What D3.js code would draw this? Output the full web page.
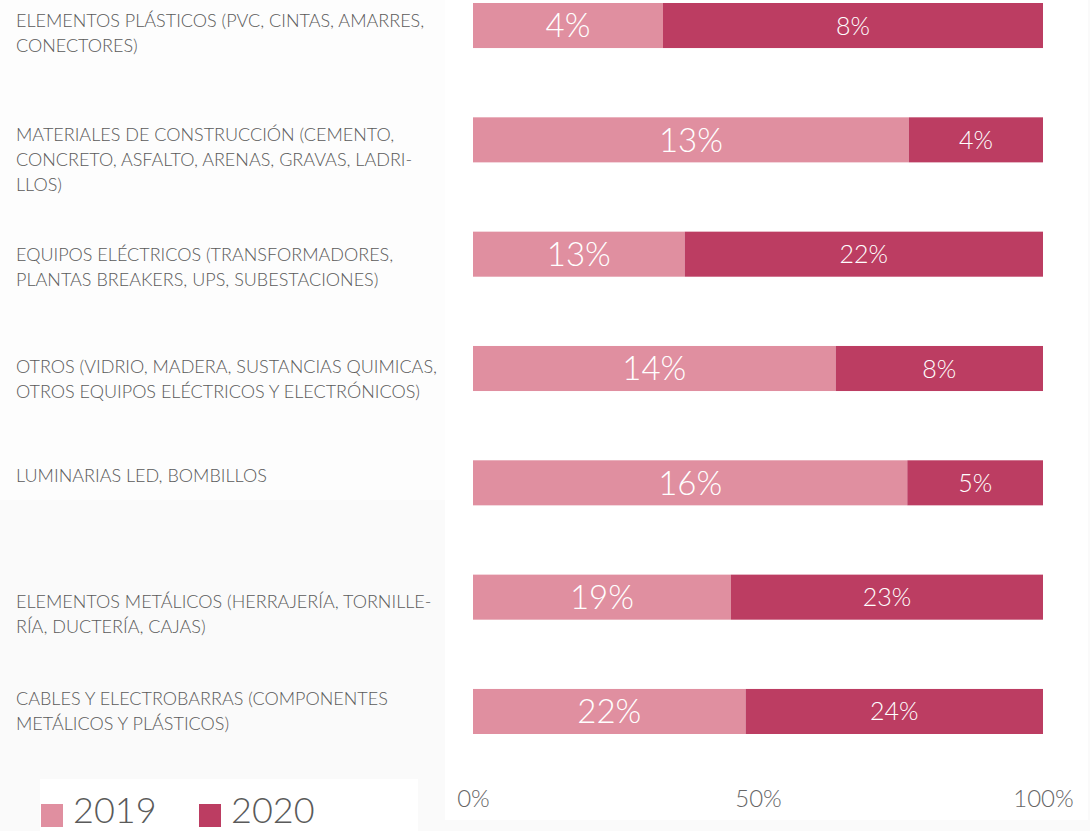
<!DOCTYPE html>
<html>
<head>
<meta charset="utf-8">
<script src="https://cdn.jsdelivr.net/npm/d3@7"></script>
<style>
  html, body { margin: 0; padding: 0; background: #fafafa; overflow: hidden; }
  svg { display: block; font-family: Lato, "Open Sans", sans-serif; }
</style>
</head>
<body>
<svg id="chart" width="1090" height="831"></svg>
<script>
// Categories (top to bottom), each label split into its printed lines
const categories = [
  "Elementos plásticos",
  "Materiales de construcción",
  "Equipos eléctricos",
  "Otros",
  "Luminarias",
  "Elementos metálicos",
  "Cables y electrobarras"
];
const categoryLines = [
  ["ELEMENTOS PLÁSTICOS (PVC, CINTAS, AMARRES,", "CONECTORES)"],
  ["MATERIALES DE CONSTRUCCIÓN (CEMENTO,", "CONCRETO, ASFALTO, ARENAS, GRAVAS, LADRI-", "LLOS)"],
  ["EQUIPOS ELÉCTRICOS (TRANSFORMADORES,", "PLANTAS BREAKERS, UPS, SUBESTACIONES)"],
  ["OTROS (VIDRIO, MADERA, SUSTANCIAS QUIMICAS,", "OTROS EQUIPOS ELÉCTRICOS Y ELECTRÓNICOS)"],
  ["LUMINARIAS LED, BOMBILLOS"],
  ["ELEMENTOS METÁLICOS (HERRAJERÍA, TORNILLE-", "RÍA, DUCTERÍA, CAJAS)"],
  ["CABLES Y ELECTROBARRAS (COMPONENTES", "METÁLICOS Y PLÁSTICOS)"]
];
const seriesNames = ["2019", "2020"];
const values2019 = [4, 13, 13, 14, 16, 19, 22];
const values2020 = [8, 4, 22, 8, 5, 23, 24];
const tickValues = [0, 0.5, 1];
const tickLabels = ["0%", "50%", "100%"];

// Styling
const colors = ["#e08fa0", "#bc3d62"];
const textColor = "#5a5a5a";
const labelShift = [0, 0, 5, 3, -2, 9, -8];

const svg = d3.select("#chart");
const W = 1090, H = 831;

// Panels
svg.append("rect").attr("x", 0).attr("y", 0).attr("width", W).attr("height", H).attr("fill", "#fafafa");
svg.append("rect").attr("x", 0).attr("y", 0).attr("width", 445).attr("height", 500).attr("fill", "#fdfdfd");
svg.append("rect").attr("x", 445).attr("y", 0).attr("width", 643).attr("height", 820).attr("fill", "#ffffff");
svg.append("rect").attr("x", 40).attr("y", 779).attr("width", 378).attr("height", 52).attr("fill", "#ffffff");

// Stack the two years as shares of each row's total
const rows = categories.map((c, i) => ({ cat: c, "2019": values2019[i], "2020": values2020[i] }));
const stacked = d3.stack().keys(seriesNames).offset(d3.stackOffsetExpand)(rows);

const x = d3.scaleLinear().domain([0, 1]).range([473, 1043]);
const y = d3.scaleBand().domain(categories).range([3, 734]).paddingInner(0.606).paddingOuter(0);

// Bars
const layers = svg.append("g").selectAll("g")
  .data(stacked).join("g")
  .attr("fill", (d, i) => colors[i]);

layers.selectAll("rect")
  .data(d => d)
  .join("rect")
  .attr("x", d => x(d[0]))
  .attr("y", d => y(d.data.cat))
  .attr("width", d => x(d[1]) - x(d[0]))
  .attr("height", y.bandwidth());

// Value labels inside segments
layers.each(function(layer, li) {
  d3.select(this).selectAll("text")
    .data(layer)
    .join("text")
    .attr("x", d => (x(d[0]) + x(d[1])) / 2)
    .attr("y", d => y(d.data.cat) + y.bandwidth() / 2)
    .attr("dy", "0.36em")
    .attr("text-anchor", "middle")
    .attr("fill", "#ffffff")
    .attr("font-weight", 300)
    .attr("font-size", li === 0 ? 33 : 25)
    .text(d => d.data[layer.key] + "%");
});

// Category labels
const lab = svg.append("g").attr("fill", textColor).attr("font-size", 18).attr("font-weight", 300);
categories.forEach((c, i) => {
  const t = lab.append("text")
    .attr("x", 16)
    .attr("y", y(c) + 24 + labelShift[i]);
  categoryLines[i].forEach((line, k) => {
    t.append("tspan").attr("x", 16).attr("dy", k === 0 ? 0 : 25).text(line);
  });
});

// Percentage axis
const axis = d3.axisBottom(x).tickValues(tickValues).tickFormat((d, i) => tickLabels[i]).tickSize(0).tickPadding(0);
const gAxis = svg.append("g").attr("transform", "translate(0,790)").call(axis);
gAxis.select(".domain").remove();
gAxis.selectAll("text")
  .attr("fill", "#666666")
  .attr("font-size", 24)
  .attr("font-weight", 300)
  .attr("font-family", "Lato, 'Open Sans', sans-serif");

// Legend
const legendX = [41, 199];
const leg = svg.append("g");
seriesNames.forEach((s, i) => {
  leg.append("rect").attr("x", legendX[i]).attr("y", 804).attr("width", 22).attr("height", 23).attr("fill", colors[i]);
  leg.append("text").attr("x", legendX[i] + 32).attr("y", 823)
    .attr("fill", textColor).attr("font-size", 36).attr("font-weight", 300)
    .text(s);
});
</script>
</body>
</html>
